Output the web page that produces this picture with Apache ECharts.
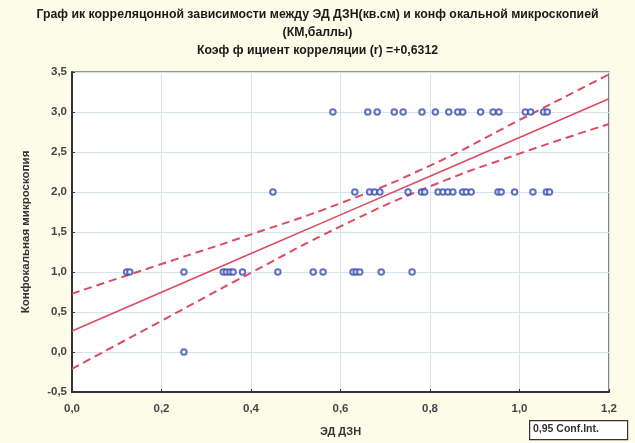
<!DOCTYPE html>
<html><head><meta charset="utf-8">
<script src="https://cdn.jsdelivr.net/npm/echarts@6/dist/echarts.min.js"></script>
<style>html,body{margin:0;padding:0;background:#fdfce9;}#c{width:635px;height:443px;}</style>
</head><body><div id="c"></div>
<script>
// Scatter data: x = ЭД ДЗН, y = КМ (баллы)
const x3 = [0.583,0.661,0.682,0.720,0.740,0.782,0.812,0.842,0.862,0.873,0.913,0.941,0.954,1.013,1.025,1.054,1.062];
const x2 = [0.449,0.632,0.665,0.676,0.688,0.751,0.781,0.788,0.818,0.829,0.840,0.851,0.873,0.881,0.892,0.952,0.959,0.989,1.030,1.060,1.067];
const x1 = [0.122,0.129,0.250,0.338,0.345,0.353,0.360,0.381,0.460,0.539,0.561,0.628,0.635,0.643,0.691,0.760];
const x0 = [0.250];
// Regression line and 95% confidence band
const bandX  = [0, 0.2, 0.4, 0.6, 0.8, 1.0, 1.2];
const fitY   = [0.263, 0.747, 1.230, 1.714, 2.197, 2.681, 3.165];
const upperY = [0.73, 1.10, 1.47, 1.86, 2.33, 2.90, 3.47];
const lowerY = [-0.21, 0.39, 0.99, 1.57, 2.07, 2.48, 2.85];

const pts = [].concat(
  x3.map(v => [v, 3]), x2.map(v => [v, 2]), x1.map(v => [v, 1]), x0.map(v => [v, 0])
);
const pair = (ys) => bandX.map((x, i) => [x, ys[i]]);
const fmt = v => v.toFixed(1).replace('.', ',');
const lineCol = '#de4a62';
const FF = 'Liberation Sans, Arial';
const chart = echarts.init(document.getElementById('c'));
chart.setOption({
  backgroundColor: '#fdfce9',
  animation: false,
  title: [
    { text: 'Граф ик корреляцонной зависимости между ЭД ДЗН(кв.см) и конф окальной микроскопией\n(КМ,баллы)',
      left: 'center', top: 1,
      textStyle: { fontFamily: FF, fontSize: 12.3, fontWeight: 'bold', color: '#1a1a1a', lineHeight: 18 } },
    { text: 'Коэф ф ициент корреляции (r) =+0,6312',
      left: 'center', top: 40,
      textStyle: { fontFamily: FF, fontSize: 12.3, fontWeight: 'bold', color: '#1a1a1a' } }
  ],
  grid: { left: 72, right: 26, top: 72, bottom: 51, show: true, backgroundColor: '#fff', borderColor: '#333', borderWidth: 1.2 },
  xAxis: {
    type: 'value', min: 0, max: 1.2, interval: 0.2,
    name: 'ЭД ДЗН', nameLocation: 'middle', nameGap: 34,
    nameTextStyle: { fontFamily: FF, fontSize: 11, fontWeight: 'bold', color: '#333' },
    axisLine: { show: true, onZero: false, lineStyle: { color: '#333', width: 2 } },
    axisTick: { show: true, inside: true, length: 3, lineStyle: { color: '#333' } },
    axisLabel: { formatter: fmt, fontFamily: FF, fontSize: 11.5, fontWeight: 'bold', color: '#444', margin: 11 },
    splitLine: { show: true, lineStyle: { color: '#d6e3e8', width: 1 } }
  },
  yAxis: {
    type: 'value', min: -0.5, max: 3.5, interval: 0.5,
    name: 'Конфокальная микроскопия', nameLocation: 'middle', nameGap: 40, nameRotate: 90,
    nameTextStyle: { fontFamily: FF, fontSize: 11.5, fontWeight: 'bold', color: '#333' },
    axisLine: { show: true, onZero: false, lineStyle: { color: '#333', width: 2 } },
    axisTick: { show: true, inside: true, length: 3, lineStyle: { color: '#333' } },
    axisLabel: { formatter: fmt, fontFamily: FF, fontSize: 11.5, fontWeight: 'bold', color: '#444', margin: 5 },
    splitLine: { show: true, lineStyle: { color: '#d6e3e8', width: 1 } }
  },
  series: [
    { type: 'line', data: pair(upperY), smooth: true, symbol: 'none',
      lineStyle: { color: lineCol, width: 2, type: [8, 5] }, z: 3 },
    { type: 'line', data: pair(lowerY), smooth: true, symbol: 'none',
      lineStyle: { color: lineCol, width: 2, type: [8, 5] }, z: 3 },
    { type: 'line', data: pair(fitY), smooth: false, symbol: 'none',
      lineStyle: { color: lineCol, width: 1.6 }, z: 3 },
    { type: 'scatter', data: pts, symbol: 'emptyCircle', symbolSize: 5.5,
      itemStyle: { color: '#3a4eb2', borderColor: '#3a4eb2', borderWidth: 1.5 }, z: 4 }
  ],
  graphic: [
    { type: 'rect', left: 529, top: 420, shape: { width: 98, height: 19 },
      style: { fill: '#fff', stroke: '#333', lineWidth: 1.2 } },
    { type: 'text', left: 533, top: 424,
      style: { text: '0,95 Conf.Int.', font: 'bold 10.5px Liberation Sans, Arial', fill: '#333' } }
  ]
});
</script></body></html>
